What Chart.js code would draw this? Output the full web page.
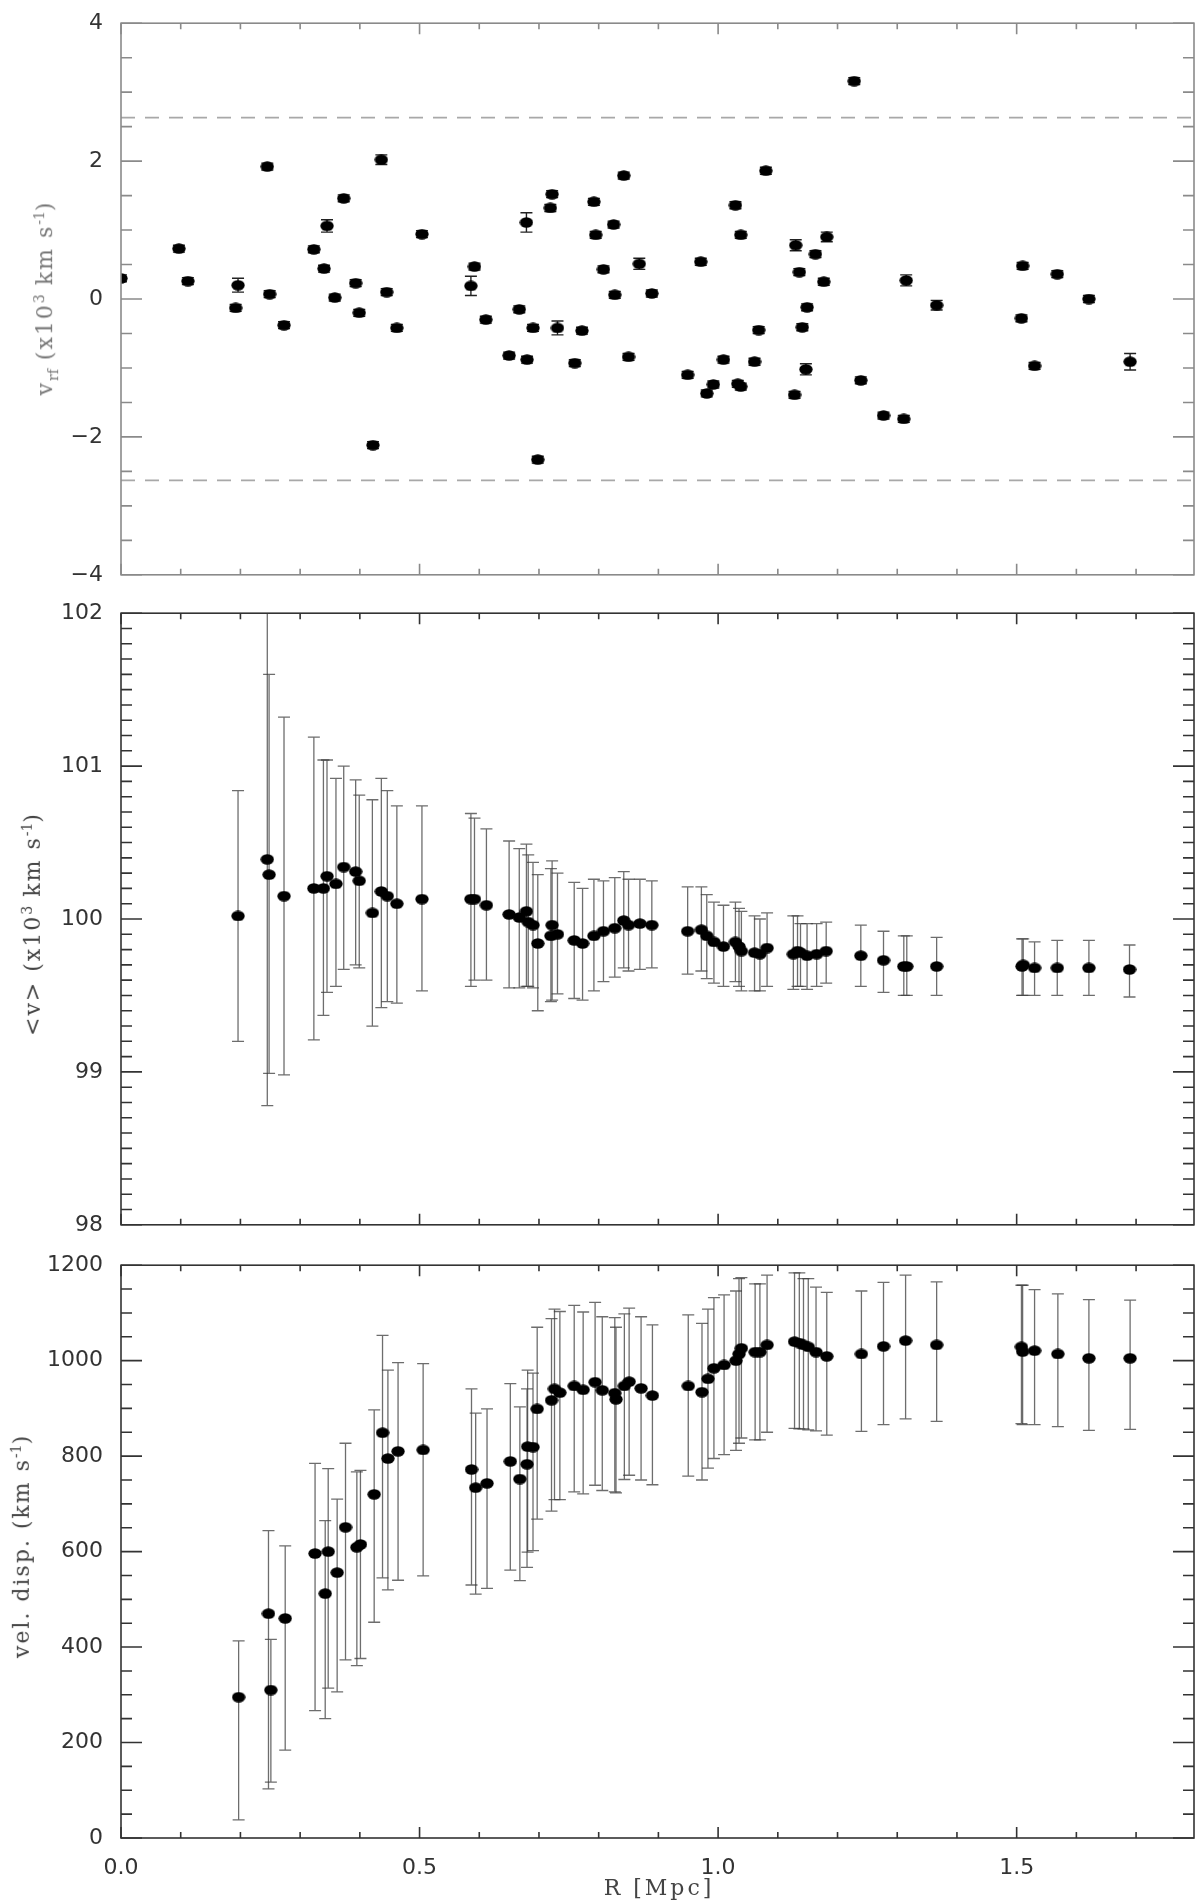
<!DOCTYPE html>
<html>
<head>
<title>Velocity profile</title>
<script src="https://cdn.jsdelivr.net/npm/chart.js"></script>
<style>
  body { margin: 0; background: #fff; }
  #page { position: relative; width: 1200px; height: 1904px; }
  .panel { position: absolute; left: 0; width: 1200px; }
  .ytitle { position: absolute; font-family: 'DejaVu Serif'; font-size: 22px; color: #444;
            white-space: nowrap; line-height: 1; letter-spacing: 2px;
            transform: translate(-50%, -50%) rotate(-90deg); }
  .ytitle sub, .ytitle sup { font-size: 14px; letter-spacing: 0; }
  .xtitle { position: absolute; font-family: 'DejaVu Serif'; font-size: 22px; color: #444;
            white-space: nowrap; line-height: 1; letter-spacing: 3px; transform: translate(-50%, -50%); }
</style>
</head>
<body>
<div id="page">
  <div class="panel" style="top:0;height:598px"><canvas id="c1"></canvas></div>
  <div class="panel" style="top:590px;height:658px"><canvas id="c2"></canvas></div>
  <div class="panel" style="top:1242px;height:662px"><canvas id="c3"></canvas></div>
  <div class="ytitle" style="left:46px;top:298px;color:#777">v<sub>rf</sub> (x10<sup>3</sup> km s<sup>-1</sup>)</div>
  <div class="ytitle" style="left:32px;top:924px">&lt;v&gt; (x10<sup>3</sup> km s<sup>-1</sup>)</div>
  <div class="ytitle" style="left:21px;top:1546px">vel. disp. (km s<sup>-1</sup>)</div>
  <div class="xtitle" style="left:659px;top:1888px">R [Mpc]</div>
</div>

<script>
// ---- data ----
// top panel: rest-frame velocity of each galaxy vs projected radius
const topR = [0.000, 0.097, 0.112, 0.196, 0.192, 0.245, 0.249, 0.273, 0.323, 0.340,
              0.345, 0.358, 0.373, 0.393, 0.399, 0.422, 0.436, 0.445, 0.462, 0.504,
              0.586, 0.592, 0.611, 0.650, 0.667, 0.679, 0.680, 0.690, 0.698, 0.719,
              0.722, 0.731, 0.760, 0.772, 0.792, 0.795, 0.808, 0.842, 0.825, 0.827,
              0.850, 0.868, 0.889, 0.949, 0.971, 0.981, 0.992, 1.009, 1.029, 1.038,
              1.033, 1.038, 1.061, 1.068, 1.080, 1.128, 1.130, 1.136, 1.141, 1.147,
              1.149, 1.163, 1.177, 1.182, 1.228, 1.239, 1.277, 1.311, 1.315, 1.366,
              1.508, 1.510, 1.530, 1.568, 1.621, 1.690];
const topV = [0.30, 0.73, 0.26, 0.20, -0.13, 1.92, 0.07, -0.38, 0.72, 0.44,
              1.06, 0.02, 1.46, 0.23, -0.20, -2.12, 2.02, 0.10, -0.42, 0.94,
              0.19, 0.47, -0.30, -0.82, -0.15, 1.11, -0.88, -0.42, -2.33, 1.32,
              1.52, -0.42, -0.93, -0.46, 1.41, 0.93, 0.43, 1.79, 1.08, 0.06,
              -0.84, 0.51, 0.08, -1.10, 0.54, -1.37, -1.24, -0.88, 1.36, 0.93,
              -1.23, -1.27, -0.91, -0.45, 1.86, -1.39, 0.78, 0.39, -0.41, -1.02,
              -0.12, 0.65, 0.25, 0.90, 3.16, -1.18, -1.69, -1.74, 0.27, -0.09,
              -0.28, 0.48, -0.97, 0.36, 0.00, -0.91];
const topErr = [0.05, 0.05, 0.05, 0.10, 0.05, 0.05, 0.05, 0.05, 0.05, 0.05,
                0.09, 0.05, 0.05, 0.05, 0.05, 0.05, 0.07, 0.05, 0.05, 0.05,
                0.14, 0.05, 0.05, 0.05, 0.05, 0.14, 0.05, 0.05, 0.05, 0.05,
                0.05, 0.10, 0.05, 0.05, 0.05, 0.05, 0.05, 0.05, 0.05, 0.05,
                0.05, 0.08, 0.05, 0.05, 0.05, 0.05, 0.05, 0.05, 0.05, 0.05,
                0.05, 0.05, 0.05, 0.05, 0.05, 0.05, 0.08, 0.05, 0.05, 0.08,
                0.05, 0.05, 0.05, 0.07, 0.05, 0.05, 0.05, 0.05, 0.08, 0.07,
                0.05, 0.05, 0.05, 0.05, 0.05, 0.12];
const rfLimit = 2.63;

// middle panel: cumulative mean velocity
const meanR = [0.196, 0.245, 0.248, 0.273, 0.323, 0.339, 0.345, 0.360, 0.373, 0.393,
               0.399, 0.421, 0.436, 0.446, 0.462, 0.504, 0.586, 0.592, 0.612, 0.650,
               0.667, 0.679, 0.682, 0.690, 0.698, 0.720, 0.722, 0.731, 0.759, 0.773,
               0.792, 0.808, 0.827, 0.842, 0.850, 0.869, 0.889, 0.949, 0.972, 0.981,
               0.993, 1.009, 1.029, 1.035, 1.039, 1.061, 1.070, 1.082, 1.126, 1.133,
               1.138, 1.149, 1.165, 1.181, 1.239, 1.277, 1.311, 1.316, 1.366, 1.509,
               1.511, 1.530, 1.568, 1.621, 1.689];
const meanV = [100.02, 100.39, 100.29, 100.15, 100.20, 100.20, 100.28, 100.23, 100.34, 100.31,
               100.25, 100.04, 100.18, 100.15, 100.10, 100.13, 100.13, 100.13, 100.09, 100.03,
               100.01, 100.05, 99.98, 99.96, 99.84, 99.89, 99.96, 99.90, 99.86, 99.84,
               99.89, 99.92, 99.94, 99.99, 99.96, 99.97, 99.96, 99.92, 99.93, 99.89,
               99.85, 99.82, 99.85, 99.82, 99.79, 99.78, 99.77, 99.81, 99.77, 99.79,
               99.78, 99.76, 99.77, 99.79, 99.76, 99.73, 99.69, 99.69, 99.69, 99.69,
               99.70, 99.68, 99.68, 99.68, 99.67];
const meanHi = [100.84, 102.00, 101.60, 101.32, 101.19, 101.04, 101.04, 100.92, 101.00, 100.91,
                100.81, 100.78, 100.92, 100.84, 100.74, 100.74, 100.69, 100.66, 100.59, 100.51,
                100.46, 100.49, 100.42, 100.37, 100.29, 100.33, 100.38, 100.30, 100.24, 100.20,
                100.26, 100.25, 100.27, 100.31, 100.26, 100.26, 100.25, 100.21, 100.21, 100.16,
                100.11, 100.09, 100.11, 100.07, 100.05, 100.02, 100.00, 100.04, 100.02, 100.02,
                99.97, 99.97, 99.97, 99.98, 99.96, 99.92, 99.89, 99.89, 99.88, 99.87,
                99.87, 99.85, 99.86, 99.86, 99.83];
const meanLo = [99.20, 98.78, 98.99, 98.98, 99.21, 99.37, 99.52, 99.56, 99.67, 99.70,
                99.68, 99.30, 99.42, 99.46, 99.45, 99.53, 99.56, 99.60, 99.60, 99.55,
                99.55, 99.56, 99.56, 99.55, 99.40, 99.46, 99.47, 99.51, 99.48, 99.47,
                99.53, 99.59, 99.62, 99.68, 99.66, 99.67, 99.68, 99.64, 99.66, 99.61,
                99.58, 99.56, 99.59, 99.56, 99.53, 99.53, 99.53, 99.56, 99.54, 99.56,
                99.56, 99.54, 99.56, 99.58, 99.56, 99.52, 99.50, 99.50, 99.50, 99.50,
                99.50, 99.50, 99.50, 99.50, 99.49];

// bottom panel: cumulative velocity dispersion
const dispR = [0.197, 0.247, 0.251, 0.275, 0.325, 0.342, 0.347, 0.362, 0.376, 0.395,
               0.401, 0.424, 0.438, 0.447, 0.464, 0.506, 0.587, 0.594, 0.613, 0.652,
               0.668, 0.680, 0.681, 0.690, 0.697, 0.721, 0.726, 0.735, 0.759, 0.774,
               0.794, 0.806, 0.827, 0.829, 0.843, 0.851, 0.871, 0.890, 0.950, 0.973,
               0.983, 0.993, 1.010, 1.030, 1.035, 1.039, 1.062, 1.070, 1.082, 1.128,
               1.136, 1.143, 1.151, 1.164, 1.182, 1.240, 1.277, 1.314, 1.366, 1.508,
               1.510, 1.530, 1.569, 1.621, 1.690];
const dispV = [295, 470, 310, 460, 596, 512, 600, 556, 651, 609,
               615, 720, 849, 795, 810, 813, 772, 734, 743, 789,
               752, 783, 820, 819, 899, 917, 941, 933, 947, 939,
               955, 938, 932, 919, 947, 956, 942, 927, 947, 934,
               962, 984, 991, 1000, 1014, 1026, 1018, 1018, 1033, 1040,
               1037, 1033, 1029, 1018, 1009, 1014, 1030, 1042, 1033, 1029,
               1019, 1021, 1014, 1005, 1005];
const dispHi = [413, 644, 416, 612, 785, 665, 774, 710, 827, 767,
                770, 897, 1053, 980, 996, 994, 941, 890, 899, 952,
                903, 941, 980, 974, 1070, 1088, 1108, 1103, 1116, 1102,
                1122, 1092, 1090, 1070, 1098, 1110, 1092, 1075, 1096, 1078,
                1108, 1132, 1138, 1146, 1172, 1174, 1161, 1161, 1179, 1184,
                1184, 1172, 1172, 1154, 1143, 1146, 1164, 1179, 1165, 1158,
                1158, 1149, 1140, 1128, 1127];
const dispLo = [38, 103, 117, 184, 267, 250, 314, 306, 373, 361,
                376, 452, 545, 520, 540, 549, 530, 511, 523, 561,
                539, 567, 599, 602, 668, 685, 709, 709, 725, 721,
                739, 728, 725, 723, 751, 760, 750, 740, 758, 750,
                775, 795, 803, 812, 827, 838, 834, 834, 850, 858,
                857, 857, 855, 853, 844, 852, 866, 878, 873, 868,
                866, 866, 862, 854, 856];

// tick labels
const xTickValues = [0, 0.5, 1.0, 1.5];
const rfTicks = [-4, -2, 0, 2, 4];
const meanTicks = [98, 99, 100, 101, 102];
const dispTicks = [0, 200, 400, 600, 800, 1000, 1200];

// ---- drawing helpers ----
Chart.defaults.font.family = 'DejaVu Sans';
Chart.defaults.font.size = 22;
Chart.defaults.color = '#333';

function ellipseMarker(w, h) {
  const c = document.createElement('canvas');
  c.width = w; c.height = h;
  const g = c.getContext('2d');
  g.fillStyle = '#000';
  g.beginPath();
  g.ellipse(w / 2, h / 2, w / 2 - 0.3, h / 2 - 0.3, 0, 0, Math.PI * 2);
  g.fill();
  return c;
}
const marker = ellipseMarker(14, 11);

const pts = (xs, ys) => xs.map((x, i) => ({ x: x, y: ys[i] }));
const minus = v => (v < 0 ? '\u2212' + Math.abs(v) : String(v));

// error bars drawn under the points
const errorBars = {
  id: 'errorBars',
  beforeDatasetsDraw(chart) {
    const { ctx, chartArea: a, scales: { x, y } } = chart;
    ctx.save();
    ctx.beginPath();
    ctx.rect(a.left, a.top, a.right - a.left, a.bottom - a.top);
    ctx.clip();
    chart.data.datasets.forEach(ds => {
      if (!ds.errHi) return;
      ctx.strokeStyle = ds.errColor;
      ctx.lineWidth = ds.errWidth;
      ds.data.forEach((p, i) => {
        const px = x.getPixelForValue(p.x);
        const top = y.getPixelForValue(ds.errHi[i]);
        const bot = y.getPixelForValue(ds.errLo[i]);
        ctx.beginPath();
        ctx.moveTo(px, top); ctx.lineTo(px, bot);
        ctx.moveTo(px - 6, top); ctx.lineTo(px + 6, top);
        ctx.moveTo(px - 6, bot); ctx.lineTo(px + 6, bot);
        ctx.stroke();
      });
    });
    ctx.restore();
  }
};

// box frame with inward ticks on all four sides
const frame = {
  id: 'frame',
  afterDraw(chart, args, o) {
    const { ctx, chartArea: a, scales: { x, y } } = chart;
    const isMajor = (v, step) => Math.abs(v / step - Math.round(v / step)) < 1e-6;
    ctx.save();
    ctx.strokeStyle = o.color;
    ctx.lineWidth = 1.6;
    ctx.strokeRect(a.left, a.top, a.right - a.left, a.bottom - a.top);
    ctx.beginPath();
    for (let i = 0; ; i++) {
      const v = Math.round((x.min + i * o.xMinor) * 1e6) / 1e6;
      if (v > x.max + 1e-9) break;
      const px = x.getPixelForValue(v);
      const len = isMajor(v, o.xMajor) ? 11 : 6;
      ctx.moveTo(px, a.bottom); ctx.lineTo(px, a.bottom - len);
      ctx.moveTo(px, a.top); ctx.lineTo(px, a.top + len);
    }
    for (let i = 0; ; i++) {
      const v = Math.round((y.min + i * o.yMinor) * 1e6) / 1e6;
      if (v > y.max + 1e-9) break;
      const py = y.getPixelForValue(v);
      const len = isMajor(v - y.min, o.yMajor) ? 21 : 11;
      ctx.moveTo(a.left, py); ctx.lineTo(a.left + len, py);
      ctx.moveTo(a.right, py); ctx.lineTo(a.right - len, py);
    }
    ctx.stroke();
    ctx.restore();
  }
};

function xScale(showLabels, height) {
  return {
    type: 'linear', min: 0, max: 1.797,
    grid: { display: false }, border: { display: false },
    afterBuildTicks: s => { s.ticks = xTickValues.map(v => ({ value: v })); },
    afterFit: s => { s.height = height; },
    ticks: { display: showLabels, padding: 9, callback: v => v.toFixed(1) }
  };
}

function yScale(min, max, tickList) {
  return {
    type: 'linear', min: min, max: max,
    grid: { display: false }, border: { display: false },
    afterBuildTicks: s => { s.ticks = tickList.map(v => ({ value: v })); },
    afterFit: s => { s.width = 121; },
    ticks: { padding: 10, callback: minus }
  };
}

const common = {
  animation: false,
  responsive: true,
  maintainAspectRatio: false,
  events: []
};

// ---- top panel ----
new Chart(document.getElementById('c1'), {
  type: 'scatter',
  data: {
    datasets: [
      {
        data: pts(topR, topV),
        errHi: topV.map((v, i) => v + topErr[i]),
        errLo: topV.map((v, i) => v - topErr[i]),
        errColor: '#222', errWidth: 1.4,
        pointStyle: marker, clip: 0
      },
      {
        type: 'line', data: [{ x: 0, y: rfLimit }, { x: 1.797, y: rfLimit }],
        borderColor: '#a8a8a8', borderWidth: 1.6, borderDash: [14, 10], pointRadius: 0
      },
      {
        type: 'line', data: [{ x: 0, y: -rfLimit }, { x: 1.797, y: -rfLimit }],
        borderColor: '#a8a8a8', borderWidth: 1.6, borderDash: [14, 10], pointRadius: 0
      }
    ]
  },
  options: Object.assign({}, common, {
    layout: { padding: { top: 5, right: 6, left: 0, bottom: 0 } },
    plugins: {
      legend: { display: false }, tooltip: { enabled: false },
      frame: { color: '#8a8a8a', xMinor: 0.1, xMajor: 0.5, yMinor: 0.5, yMajor: 2 }
    },
    scales: { x: xScale(false, 9), y: yScale(-4, 4, rfTicks) }
  }),
  plugins: [errorBars, frame]
});

// ---- middle panel ----
new Chart(document.getElementById('c2'), {
  type: 'scatter',
  data: {
    datasets: [{
      data: pts(meanR, meanV),
      errHi: meanHi, errLo: meanLo,
      errColor: 'rgba(60,60,60,0.75)', errWidth: 1.3,
      pointStyle: marker, clip: 0
    }]
  },
  options: Object.assign({}, common, {
    layout: { padding: { top: 13, right: 6, left: 0, bottom: 0 } },
    plugins: {
      legend: { display: false }, tooltip: { enabled: false },
      frame: { color: '#333', xMinor: 0.1, xMajor: 0.5, yMinor: 0.1, yMajor: 1 }
    },
    scales: { x: xScale(false, 6), y: yScale(98, 102, meanTicks) }
  }),
  plugins: [errorBars, frame]
});

// ---- bottom panel ----
new Chart(document.getElementById('c3'), {
  type: 'scatter',
  data: {
    datasets: [{
      data: pts(dispR, dispV),
      errHi: dispHi, errLo: dispLo,
      errColor: 'rgba(60,60,60,0.75)', errWidth: 1.3,
      pointStyle: marker, clip: 0
    }]
  },
  options: Object.assign({}, common, {
    layout: { padding: { top: 12, right: 6, left: 0, bottom: 0 } },
    plugins: {
      legend: { display: false }, tooltip: { enabled: false },
      frame: { color: '#333', xMinor: 0.1, xMajor: 0.5, yMinor: 50, yMajor: 200 }
    },
    scales: { x: xScale(true, 66), y: yScale(0, 1200, dispTicks) }
  }),
  plugins: [errorBars, frame]
});
</script>
</body>
</html>
